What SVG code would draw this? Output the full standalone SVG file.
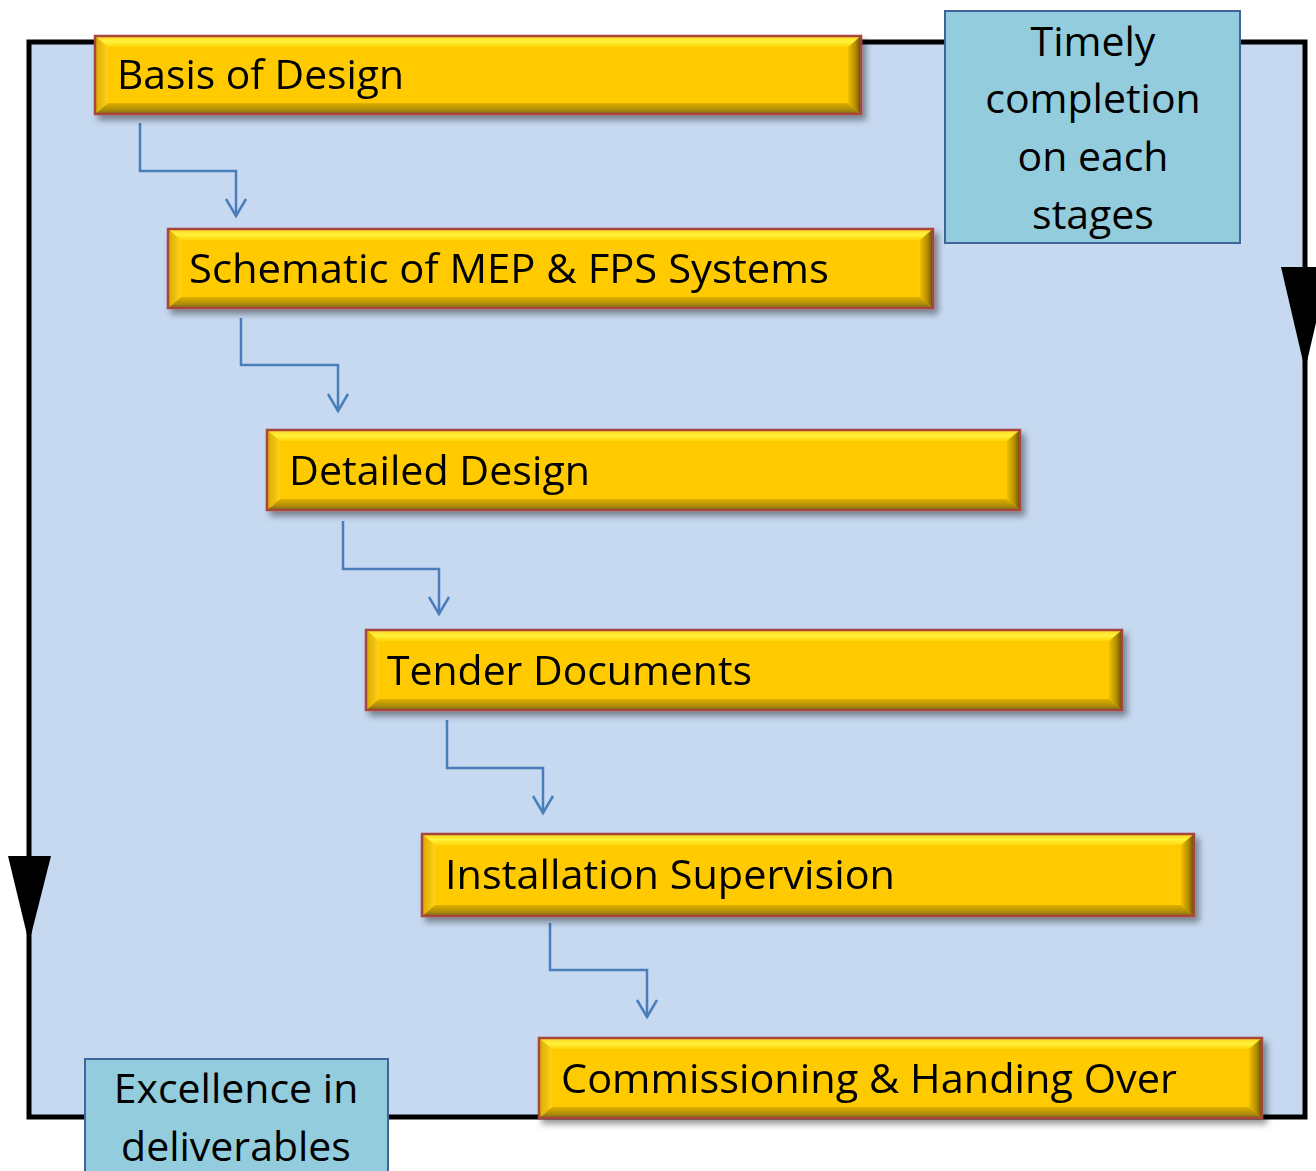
<svg xmlns="http://www.w3.org/2000/svg" width="1316" height="1171" viewBox="0 0 1316 1171">
<defs>
<style>
.lbl{font-family:"Open Sans","Liberation Sans",sans-serif;font-size:41px;fill:#000}
.note{font-family:"Open Sans","Liberation Sans",sans-serif;font-size:41px;fill:#000;text-anchor:middle}
.face{fill:#FFCB05}
.bt{fill:url(#gTop)}
.bb{fill:url(#gBot)}
.bl{fill:url(#gLeft)}
.br{fill:url(#gRight)}
.edge{fill:none;stroke:#A8443C;stroke-width:2.5}
.teal{fill:#93CDDD;stroke:#3F659A;stroke-width:2}
.conn{fill:none;stroke:#4A7EBB;stroke-width:2.5}
</style>
<linearGradient id="gTop" x1="0" y1="0" x2="0" y2="1">
<stop offset="0" stop-color="#FFD21A"/><stop offset="0.5" stop-color="#FFF23C"/><stop offset="1" stop-color="#FFD60A"/>
</linearGradient>
<linearGradient id="gBot" x1="0" y1="0" x2="0" y2="1">
<stop offset="0" stop-color="#E0B000"/><stop offset="0.6" stop-color="#B08E08"/><stop offset="1" stop-color="#7E6A14"/>
</linearGradient>
<linearGradient id="gLeft" x1="0" y1="0" x2="1" y2="0">
<stop offset="0" stop-color="#D8A800"/><stop offset="1" stop-color="#FFD21A"/>
</linearGradient>
<linearGradient id="gRight" x1="0" y1="0" x2="1" y2="0">
<stop offset="0" stop-color="#F0C000"/><stop offset="0.6" stop-color="#B08A00"/><stop offset="1" stop-color="#5E4A10"/>
</linearGradient>
<filter id="sh" x="-5%" y="-20%" width="110%" height="150%">
<feDropShadow dx="4" dy="5" stdDeviation="3" flood-color="#000" flood-opacity="0.4"/>
</filter>
<marker id="open" viewBox="-2 -2 22 24" refX="17" refY="10" markerWidth="22" markerHeight="24" markerUnits="userSpaceOnUse" orient="auto">
<path d="M0,0 L17,10 L0,20" fill="none" stroke="#4A7EBB" stroke-width="2.5"/>
</marker>
</defs>
<rect width="1316" height="1171" fill="#fff"/>

<g id="frame">
<rect x="29" y="42" width="1276" height="1075" fill="#C6D9F0" stroke="#000" stroke-width="5"/>
<polygon points="1281,267 1329,267 1305,370" fill="#000"/>
<polygon points="8,856 51,856 29,943" fill="#000"/>
</g>

<g id="connectors">
<path class="conn" d="M140,123 V171 H236 V216" marker-end="url(#open)"/>
<path class="conn" d="M241,318 V365 H338 V411" marker-end="url(#open)"/>
<path class="conn" d="M343,521 V569 H439 V614" marker-end="url(#open)"/>
<path class="conn" d="M447,720 V768 H543 V813" marker-end="url(#open)"/>
<path class="conn" d="M550,923 V970 H647 V1017" marker-end="url(#open)"/>
</g>

<g id="timely">
<rect class="teal" x="945" y="11" width="295" height="232"/>
<text class="note" x="1093" y="56">Timely</text>
<text class="note" x="1093" y="113">completion</text>
<text class="note" x="1093" y="171">on each</text>
<text class="note" x="1093" y="229">stages</text>
</g>

<g id="excellence">
<rect class="teal" x="85" y="1059" width="303" height="130"/>
<text class="note" x="236" y="1103">Excellence in</text>
<text class="note" x="236" y="1161">deliverables</text>
</g>

<g id="basis" filter="url(#sh)">
<rect class="face" x="95" y="36" width="766" height="78"/>
<polygon class="bt" points="95,36 861,36 848,47 108,47"/>
<polygon class="bb" points="95,114 861,114 848,103 108,103"/>
<polygon class="bl" points="95,36 108,47 108,103 95,114"/>
<polygon class="br" points="861,36 848,47 848,103 861,114"/>
<rect class="edge" x="95" y="36" width="766" height="78"/>
<text class="lbl" x="117" y="89" textLength="287" lengthAdjust="spacingAndGlyphs">Basis of Design</text>
</g>

<g id="schematic" filter="url(#sh)">
<rect class="face" x="168" y="229" width="765" height="79"/>
<polygon class="bt" points="168,229 933,229 920,240 181,240"/>
<polygon class="bb" points="168,308 933,308 920,297 181,297"/>
<polygon class="bl" points="168,229 181,240 181,297 168,308"/>
<polygon class="br" points="933,229 920,240 920,297 933,308"/>
<rect class="edge" x="168" y="229" width="765" height="79"/>
<text class="lbl" x="189" y="283" textLength="640" lengthAdjust="spacingAndGlyphs">Schematic of MEP &amp; FPS Systems</text>
</g>

<g id="detailed" filter="url(#sh)">
<rect class="face" x="267" y="430" width="753" height="80"/>
<polygon class="bt" points="267,430 1020,430 1007,441 280,441"/>
<polygon class="bb" points="267,510 1020,510 1007,499 280,499"/>
<polygon class="bl" points="267,430 280,441 280,499 267,510"/>
<polygon class="br" points="1020,430 1007,441 1007,499 1020,510"/>
<rect class="edge" x="267" y="430" width="753" height="80"/>
<text class="lbl" x="289" y="485" textLength="301" lengthAdjust="spacingAndGlyphs">Detailed Design</text>
</g>

<g id="tender" filter="url(#sh)">
<rect class="face" x="366" y="630" width="756" height="80"/>
<polygon class="bt" points="366,630 1122,630 1109,641 379,641"/>
<polygon class="bb" points="366,710 1122,710 1109,699 379,699"/>
<polygon class="bl" points="366,630 379,641 379,699 366,710"/>
<polygon class="br" points="1122,630 1109,641 1109,699 1122,710"/>
<rect class="edge" x="366" y="630" width="756" height="80"/>
<text class="lbl" x="387" y="685" textLength="365" lengthAdjust="spacingAndGlyphs">Tender Documents</text>
</g>

<g id="installation" filter="url(#sh)">
<rect class="face" x="422" y="834" width="772" height="82"/>
<polygon class="bt" points="422,834 1194,834 1181,845 435,845"/>
<polygon class="bb" points="422,916 1194,916 1181,905 435,905"/>
<polygon class="bl" points="422,834 435,845 435,905 422,916"/>
<polygon class="br" points="1194,834 1181,845 1181,905 1194,916"/>
<rect class="edge" x="422" y="834" width="772" height="82"/>
<text class="lbl" x="445" y="889" textLength="450" lengthAdjust="spacingAndGlyphs">Installation Supervision</text>
</g>

<g id="commissioning" filter="url(#sh)">
<rect class="face" x="539" y="1038" width="723" height="80"/>
<polygon class="bt" points="539,1038 1262,1038 1249,1049 552,1049"/>
<polygon class="bb" points="539,1118 1262,1118 1249,1107 552,1107"/>
<polygon class="bl" points="539,1038 552,1049 552,1107 539,1118"/>
<polygon class="br" points="1262,1038 1249,1049 1249,1107 1262,1118"/>
<rect class="edge" x="539" y="1038" width="723" height="80"/>
<text class="lbl" x="561" y="1093" textLength="616" lengthAdjust="spacingAndGlyphs">Commissioning &amp; Handing Over</text>
</g>
</svg>
